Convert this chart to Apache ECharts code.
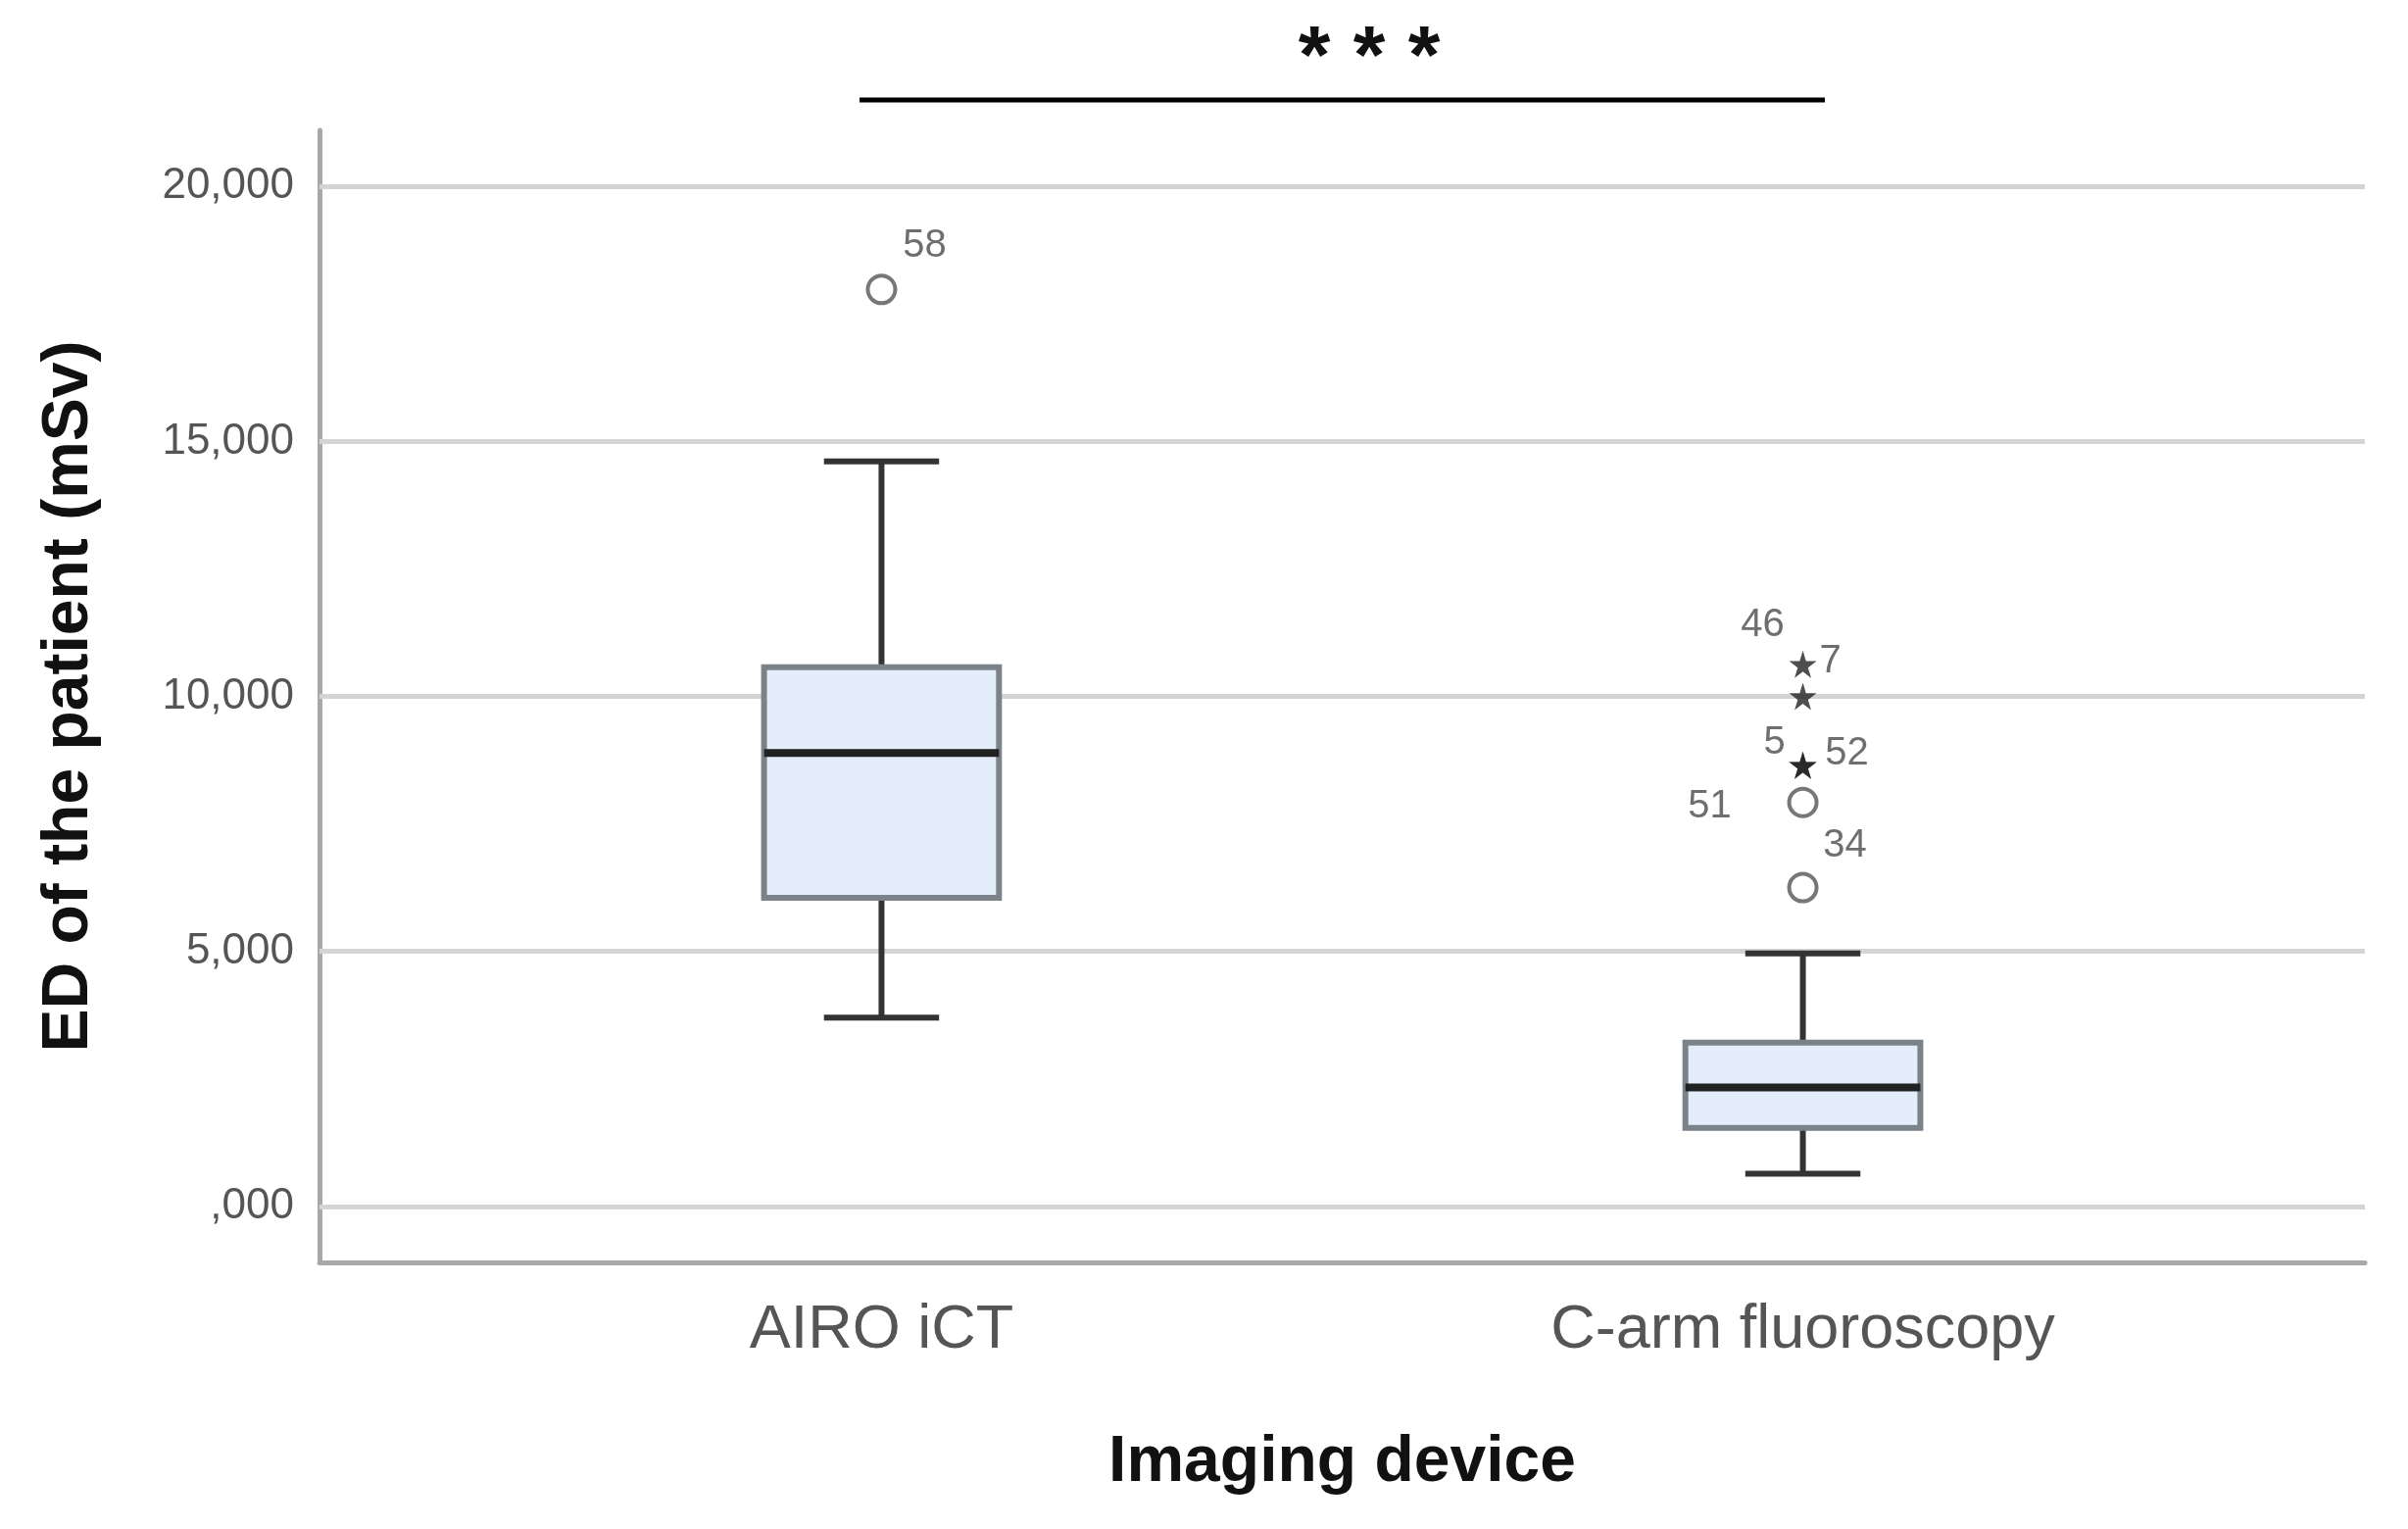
<!DOCTYPE html>
<html>
<head>
<meta charset="utf-8">
<title>ED of the patient by imaging device</title>
<script src="https://cdn.jsdelivr.net/npm/echarts@6/dist/echarts.min.js"></script>
<style>
  html, body { margin: 0; padding: 0; background: #fff; }
  #chart { width: 2457px; height: 1560px; }
</style>
</head>
<body>
<div id="chart"></div>
<script>
// categories (x positions 0 and 1)
const categories = ['AIRO iCT', 'C-arm fluoroscopy']

// box statistics, mSv
const whiskerLow = [3.70, 0.64]
const q1 = [6.05, 1.54]
const median = [8.89, 2.33]
const q3 = [10.57, 3.21]
const whiskerHigh = [14.61, 4.96]

// outliers: category index, value, case id, kind
const outlierCat = [0, 1, 1, 1, 1, 1, 1]
const outlierValue = [17.98, 10.63, 10.0, 8.65, 8.65, 7.92, 6.25]
const outlierId = ['58', '46', '7', '5', '52', '51', '34']
const outlierKind = ['circle', 'star', 'star', 'star', 'star', 'circle', 'circle']

// y tick labels
const yTicks = [0, 5, 10, 15, 20]

// label placement for outlier ids (pixels, relative to the point)
const labelOffsets = [[44, -44], [-41, -40], [28, -36], [-29, -23], [45, -12], [-95, 4], [43, -43]]

const FONT = 'Liberation Sans, Arial, sans-serif'
const STAR = 'path://M50,0 L61,35 L98,35 L68,57 L79,91 L50,70 L21,91 L32,57 L2,35 L39,35 Z'

const chart = echarts.init(document.getElementById('chart'))

const boxData = categories.map((c, i) => [i, whiskerLow[i], q1[i], median[i], q3[i], whiskerHigh[i]])

// 箱线图自绘，须线端帽为箱宽一半
const renderBox = (params, api) => {
  const x = api.value(0)
  const pLow = api.coord([x, api.value(1)])
  const pQ1 = api.coord([x, api.value(2)])
  const pMed = api.coord([x, api.value(3)])
  const pQ3 = api.coord([x, api.value(4)])
  const pHigh = api.coord([x, api.value(5)])
  const boxW = api.size([0.255, 0])[0]
  const capW = boxW * 0.49
  const cx = pMed[0]
  const whisker = { stroke: '#333333', lineWidth: 6 }
  return {
    type: 'group',
    children: [
      { type: 'line', shape: { x1: cx, y1: pHigh[1], x2: cx, y2: pQ3[1] }, style: whisker },
      { type: 'line', shape: { x1: cx, y1: pQ1[1], x2: cx, y2: pLow[1] }, style: whisker },
      { type: 'line', shape: { x1: cx - capW / 2, y1: pHigh[1], x2: cx + capW / 2, y2: pHigh[1] }, style: whisker },
      { type: 'line', shape: { x1: cx - capW / 2, y1: pLow[1], x2: cx + capW / 2, y2: pLow[1] }, style: whisker },
      {
        type: 'rect',
        shape: { x: cx - boxW / 2, y: pQ3[1], width: boxW, height: pQ1[1] - pQ3[1] },
        style: { fill: '#e4eefa', stroke: '#7c828a', lineWidth: 6 }
      },
      {
        type: 'line',
        shape: { x1: cx - boxW / 2, y1: pMed[1], x2: cx + boxW / 2, y2: pMed[1] },
        style: { stroke: '#222222', lineWidth: 8 }
      }
    ]
  }
}

const outlierData = outlierValue.map((v, i) => ({
  value: [outlierCat[i], v],
  symbol: outlierKind[i] === 'star' ? STAR : 'circle',
  symbolSize: outlierKind[i] === 'star' ? 28 : 28,
  itemStyle: outlierKind[i] === 'star'
    ? { color: '#222222', borderWidth: 0 }
    : { color: 'rgba(255,255,255,0)', borderColor: '#555555', borderWidth: 4 },
  label: {
    show: true,
    formatter: outlierId[i],
    position: 'inside',
    offset: labelOffsets[i],
    color: '#4a4a4a',
    fontSize: 40,
    fontFamily: FONT
  }
}))

const option = {
  backgroundColor: '#ffffff',
  animation: false,
  grid: { left: 326, right: 44, top: 133, bottom: 272 },
  xAxis: {
    type: 'value',
    min: -0.61,
    max: 1.61,
    name: 'Imaging device',
    nameLocation: 'middle',
    nameGap: 172,
    nameTextStyle: { fontSize: 66, fontWeight: 'bold', color: '#111111', fontFamily: FONT },
    axisLine: { show: true, onZero: false, lineStyle: { color: '#a8a8a8', width: 5 } },
    axisTick: { show: false },
    splitLine: { show: false },
    axisLabel: {
      customValues: [0, 1],
      formatter: (v) => categories[Math.round(v)],
      margin: 38,
      fontSize: 63,
      color: '#555555',
      fontFamily: FONT
    }
  },
  yAxis: {
    type: 'value',
    min: -1.1,
    max: 21.1,
    name: 'ED of the patient (mSv)',
    nameLocation: 'middle',
    nameGap: 222,
    nameTextStyle: { fontSize: 66, fontWeight: 'bold', color: '#111111', fontFamily: FONT },
    axisLine: { show: true, onZero: false, lineStyle: { color: '#a8a8a8', width: 5 } },
    axisTick: { show: false },
    splitLine: { show: false },
    axisLabel: {
      customValues: yTicks,
      formatter: (v) => (v === 0 ? ',000' : v.toFixed(3).replace('.', ',')),
      margin: 26,
      fontSize: 44,
      color: '#555555',
      fontFamily: FONT
    }
  },
  graphic: [
    {
      type: 'line',
      shape: { x1: 877, y1: 102, x2: 1862, y2: 102 },
      style: { stroke: '#000000', lineWidth: 5 }
    },
    {
      type: 'text',
      x: 1397,
      y: 62,
      style: {
        text: '* * *',
        fontSize: 84,
        fontWeight: 'bold',
        fill: '#111111',
        fontFamily: FONT,
        align: 'center',
        verticalAlign: 'middle'
      }
    }
  ],
  series: [
    {
      // 网格线
      type: 'line',
      data: [],
      z: 1,
      markLine: {
        silent: true,
        symbol: 'none',
        z: 1,
        label: { show: false },
        lineStyle: { color: '#d4d4d4', width: 5, type: 'solid' },
        data: yTicks.map((v) => ({ yAxis: v }))
      }
    },
    {
      type: 'custom',
      z: 10,
      renderItem: renderBox,
      data: boxData
    },
    {
      type: 'scatter',
      z: 12,
      data: outlierData
    }
  ]
}

chart.setOption(option)
</script>
</body>
</html>
